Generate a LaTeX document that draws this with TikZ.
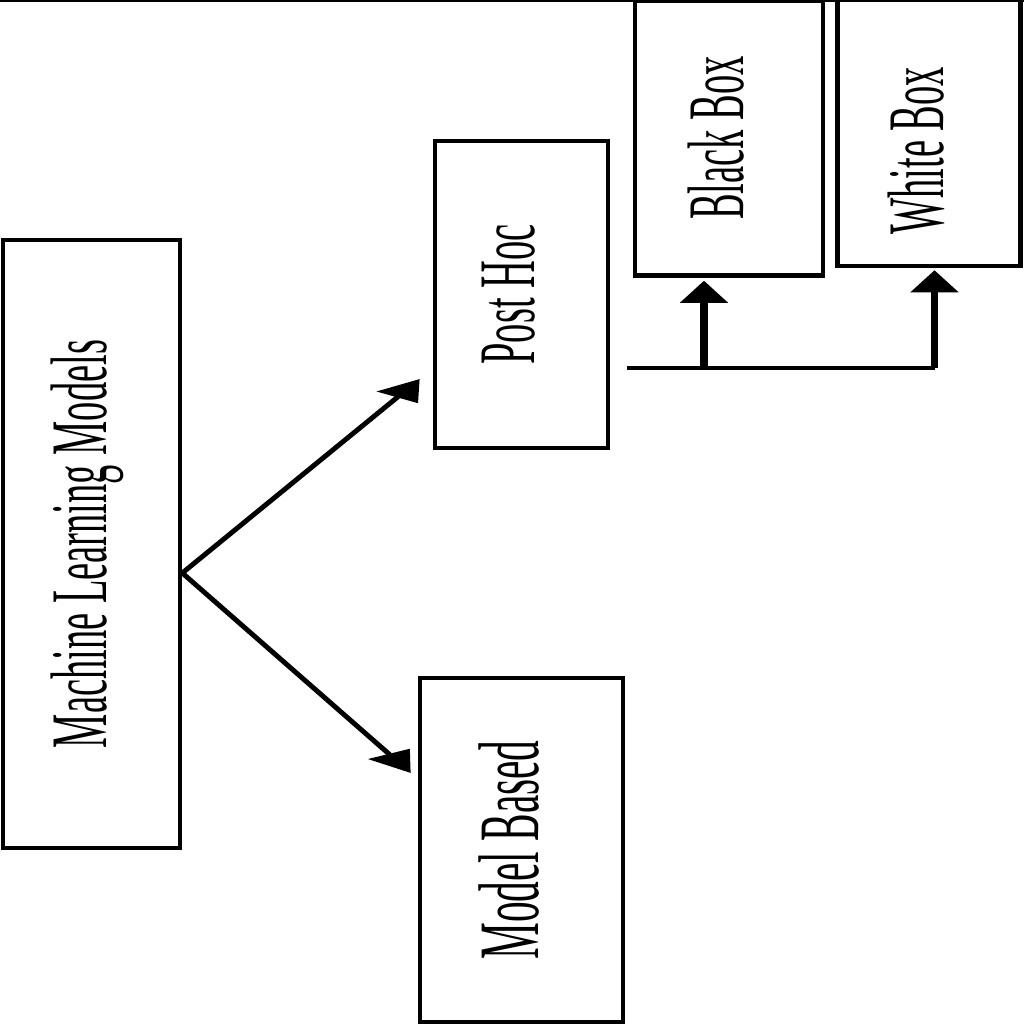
\documentclass[tikz,border=0pt]{standalone}
\usepackage{fontspec}
\usepackage{tikz}
\usetikzlibrary{arrows.meta, positioning, calc}
\newfontfamily\boxfont[FakeStretch=0.48]{Liberation Serif}
\newcommand{\sidetext}[1]{\rotatebox{90}{\rule[-0.26cm]{0pt}{0.26cm}#1}}
\tikzstyle{block} = [rectangle, draw=black, line width=1.3pt, fill=white, inner sep=0pt, font=\boxfont\fontsize{22.8}{27}\selectfont]
\tikzstyle{arrow} = [line width=1.4pt]
\tikzstyle{uparrow} = [line width=2pt, -{Triangle[length=0.22cm, width=0.47cm]}]
\tikzstyle{bus} = [line width=1.1pt]

\begin{document}
\begin{tikzpicture}[node distance=2cm]
        \useasboundingbox (0,0) rectangle (10.24,10.24);
        \draw [line width=0.8pt] (0,10.235) -- (10.24,10.235);

        \node (ml) [block, minimum width=1.77cm, minimum height=6.08cm] at (0.915,4.80) {\sidetext{Machine Learning Models}};
        \node (ph) [block, minimum width=1.73cm, minimum height=3.07cm, right of=ml, xshift=2.3cm, yshift=2.495cm] {\sidetext{Post Hoc}};
        \node (mb) [block, minimum width=2.03cm, minimum height=3.44cm, below of=ph, yshift=-3.555cm, font=\boxfont\fontsize{24.5}{29}\selectfont] {\sidetext{Model Based}};
        \node (bb) [block, minimum width=1.88cm, minimum height=2.75cm, right of=ph, xshift=0.075cm, yshift=1.565cm] {\sidetext{Black Box}};
        \node (wb) [block, minimum width=1.83cm, minimum height=2.66cm, right of=bb, yshift=0.05cm] {\sidetext{White Box\hspace{0.36cm}}};

        \coordinate (fork) at ([yshift=-0.29cm]ml.east);
        \coordinate (split) at ([xshift=0.17cm, yshift=-0.735cm]ph.east);
        \coordinate (bbfoot) at ([xshift=-0.25cm, yshift=-0.03cm]bb.south);
        \coordinate (wbfoot) at ([xshift=0.055cm, yshift=-0.02cm]wb.south);

        \draw [arrow, -{Triangle[length=0.29cm, width=0.34cm, slant=-0.7]}] (fork) -- ([xshift=-0.13cm, yshift=-0.845cm]ph.west);
        \draw [arrow, -{Triangle[length=0.29cm, width=0.34cm, slant=0.7]}] (fork) -- ([xshift=-0.07cm, yshift=0.77cm]mb.west);
        \draw [bus] (split) -- (split -| wbfoot);
        \draw [uparrow] (split -| bbfoot) -- (bbfoot);
        \draw [uparrow] (split -| wbfoot) -- (wbfoot);
    \end{tikzpicture}
\end{document}
